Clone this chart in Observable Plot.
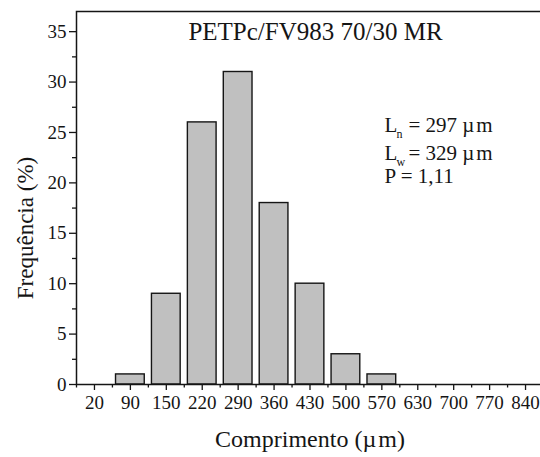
<!DOCTYPE html>
<html>
<head>
<meta charset="utf-8">
<script src="https://cdn.jsdelivr.net/npm/d3@7"></script>
<script src="https://cdn.jsdelivr.net/npm/@observablehq/plot@0.6"></script>
<style>
  html, body { margin: 0; padding: 0; background: white; overflow: hidden; }
</style>
</head>
<body>
<div id="chart"></div>
<script>
// ---- data ----
const lengths = [20, 90, 150, 220, 290, 360, 430, 500, 570, 630, 700, 770, 840];
const frequencies = [0, 1, 9, 26, 31, 18, 10, 3, 1, 0, 0, 0, 0];
const yTicks = [0, 5, 10, 15, 20, 25, 30, 35];
const yMinorTicks = [2.5, 7.5, 12.5, 17.5, 22.5, 27.5, 32.5];
const title = "PETPc/FV983 70/30 MR";
const statSymbols = ["L", "L"];
const statSubscripts = ["n", "w"];
const statValues = ["= 297 \u00b5\u200am", "= 329 \u00b5\u200am"];
const polyText = "P = 1,11";
const xLabel = "Comprimento (\u00b5\u200am)";
const yLabel = "Frequ\u00eancia (%)";

const rows = lengths.map((c, i) => ({i, label: c, f: frequencies[i]}));
const majorX = rows.map(d => d.i);
const minorX = [-0.5, ...rows.map(d => d.i + 0.5)];
const ink = "#151515";
const font = "'Liberation Serif', 'Times New Roman', serif";

const chart = Plot.plot({
  width: 540,
  height: 457,
  marginLeft: 76,
  marginRight: -3,
  marginTop: 11,
  marginBottom: 73,
  style: {fontFamily: font, fontSize: "19px", color: ink, background: "white", overflow: "hidden"},
  x: {domain: [-0.5, 12.5], axis: null},
  y: {domain: [0, 37], axis: null},
  marks: [
    Plot.rectY(rows.filter(d => d.f > 0), {
      x1: d => d.i - 0.5, x2: d => d.i + 0.5, y: "f",
      insetLeft: 3.6, insetRight: 3.6,
      fill: "#c0c0c0", stroke: ink, strokeWidth: 1.4
    }),
    Plot.axisY({ticks: yTicks, tickSize: 7, tickPadding: 3, label: null, stroke: ink, strokeWidth: 1.3, fill: ink, fontSize: 19}),
    Plot.axisY({ticks: yMinorTicks, tickSize: 4, tickFormat: () => "", label: null, stroke: ink, strokeWidth: 1.3}),
    Plot.axisX({ticks: majorX, tickFormat: i => String(lengths[i]), tickSize: 6, tickPadding: 5, label: null, stroke: ink, strokeWidth: 1.3, fill: ink, fontSize: 19}),
    Plot.axisX({ticks: minorX, tickSize: 3.5, tickFormat: () => "", label: null, stroke: ink, strokeWidth: 1.3}),
    Plot.frame({stroke: ink, strokeWidth: 1.5}),
    // title
    Plot.text([title], {text: d => d, frameAnchor: "top-left", dx: 239, dy: 11,
      textAnchor: "middle", lineAnchor: "top", fontSize: 25, fill: ink}),
    // statistics
    Plot.text([statSymbols.join("\n")], {text: d => d, frameAnchor: "top-left", dx: 308, dy: 101,
      textAnchor: "start", lineAnchor: "top", fontSize: 21, lineHeight: 28 / 21, fill: ink}),
    Plot.text([statSubscripts.join("\n")], {text: d => d, frameAnchor: "top-left", dx: 320, dy: 107,
      textAnchor: "start", lineAnchor: "top", fontSize: 12, lineHeight: 28 / 12, fill: ink}),
    Plot.text([statValues.join("\n")], {text: d => d, frameAnchor: "top-left", dx: 332, dy: 101,
      textAnchor: "start", lineAnchor: "top", fontSize: 21, lineHeight: 28 / 21, fill: ink}),
    Plot.text([polyText], {text: d => d, frameAnchor: "top-left", dx: 308, dy: 157,
      textAnchor: "start", lineAnchor: "top", fontSize: 21, fill: ink}),
    // axis titles
    Plot.text([xLabel], {text: d => d, frameAnchor: "bottom", dy: 45,
      textAnchor: "middle", lineAnchor: "top", fontSize: 24, fill: ink}),
    Plot.text([yLabel], {text: d => d, frameAnchor: "left", dx: -51, dy: 30, rotate: -90,
      textAnchor: "middle", lineAnchor: "middle", fontSize: 23, fill: ink})
  ]
});
document.getElementById("chart").appendChild(chart);
</script>
</body>
</html>
